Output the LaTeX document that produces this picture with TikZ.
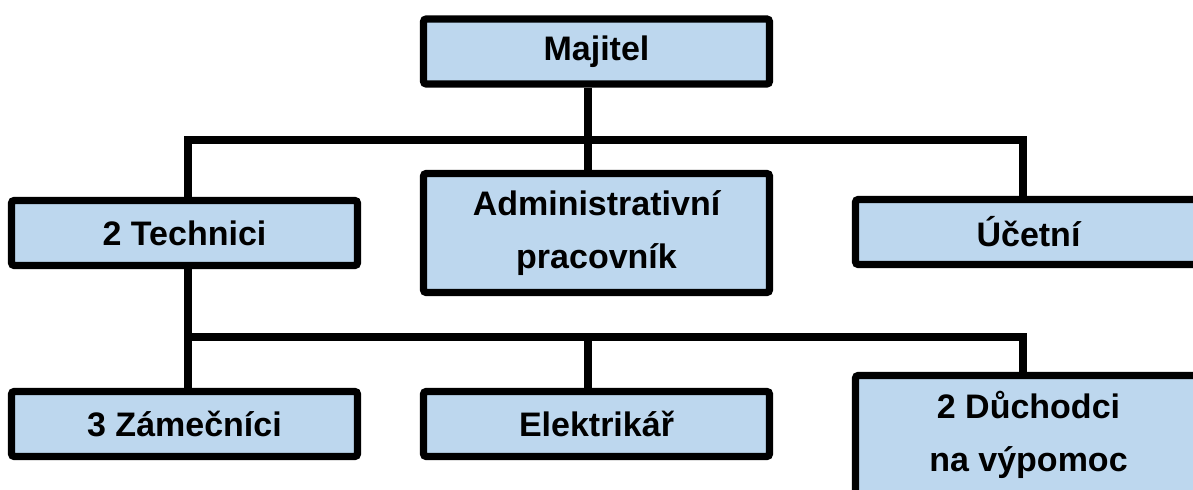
\documentclass[tikz,border=0pt]{standalone}
\usepackage{fontspec}
\setmainfont{Liberation Sans}
\usepackage{tikz}
\usetikzlibrary{calc}
\definecolor{boxblue}{RGB}{189,215,238}

\begin{document}
\begin{tikzpicture}[x=0.5pt,y=-0.5pt,
		box/.style={draw=black,fill=boxblue,line width=3.7pt,rounded corners=1.5pt,
			minimum width=173pt,minimum height=32.5pt,inner sep=0pt,align=center,
			font=\fontsize{17}{26.5}\selectfont\bfseries},
		tallbox/.style={box,minimum height=59.5pt},
		link/.style={line width=4pt,line join=miter}]
		\useasboundingbox (0,0) rectangle (1193,490);
		\node[box](maj) at (596.5,51.5) {Majitel}; %上段
		\node[box](tech) at (184.5,233) {2 Technici}; %中段
		\node[tallbox](adm) at (596.5,233) {Administrativní\\pracovník};
		\node[box](uce) at (1028.5,232) {Účetní};
		\node[box](zam) at (184.5,424) {3 Zámečníci}; %下段
		\node[box](ele) at (596.5,424) {Elektrikář};
		\node[tallbox](duch) at (1028.5,435) {2 Důchodci\\na výpomoc};
		\coordinate (tl) at (188,140);
		\coordinate (tm) at (588,140);
		\coordinate (tr) at (1023,140);
		\coordinate (bl) at (188,337);
		\coordinate (bm) at (588,337);
		\coordinate (br) at (1023,337);
		\draw[link] (tm |- maj.south) -- (tm |- adm.north);
		\draw[link] (tl |- tech.north) -- (tl) -- (tr) -- (tr |- uce.north);
		\draw[link] (bl |- tech.south) -- (bl |- zam.north);
		\draw[link] (bl) -- (br) -- (br |- duch.north);
		\draw[link] (bm) -- (bm |- ele.north);
	\end{tikzpicture}
\end{document}
